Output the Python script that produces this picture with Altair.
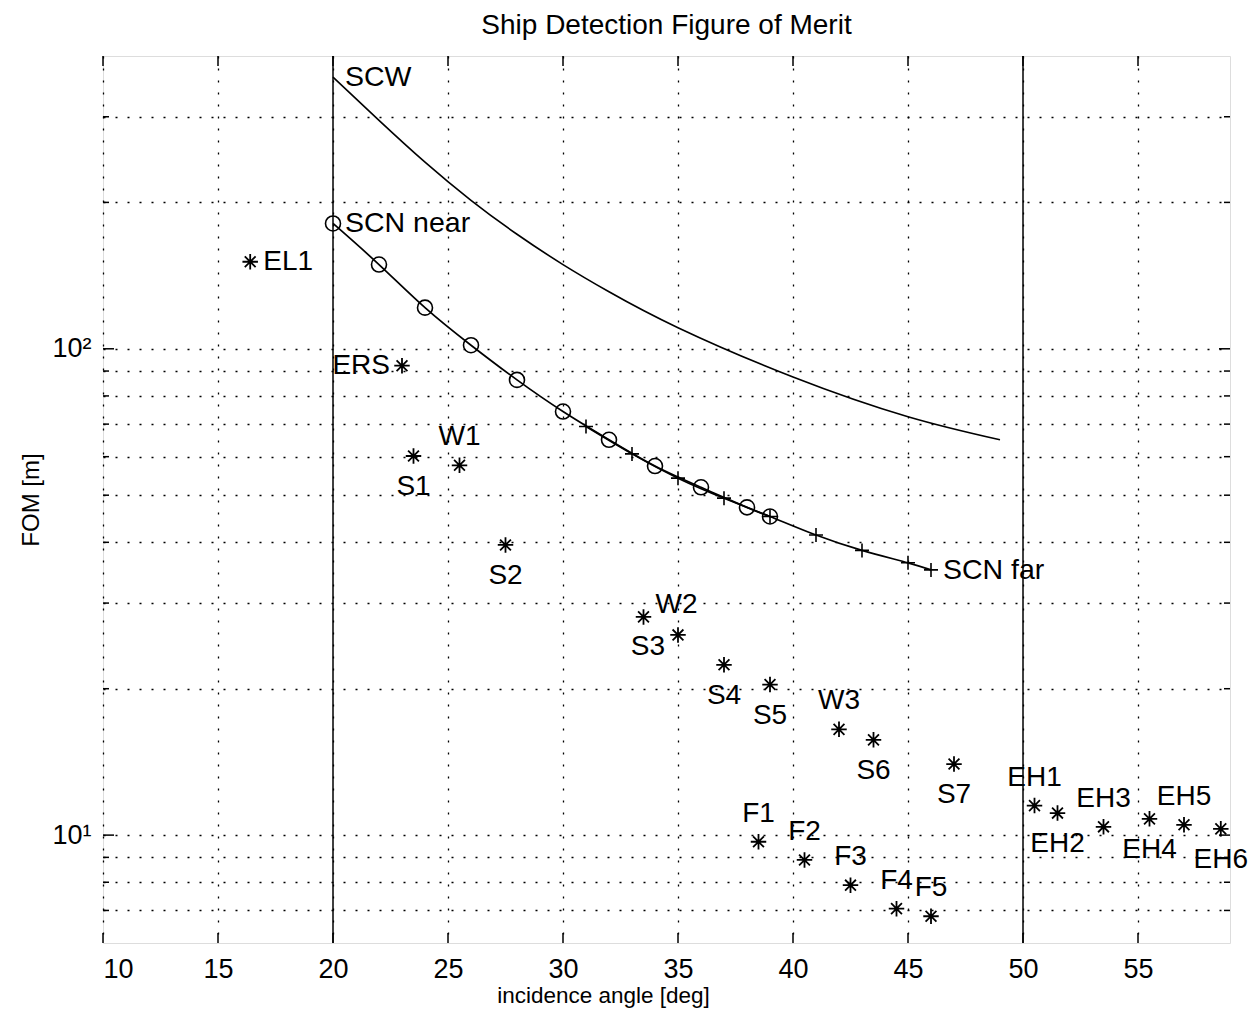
import altair as alt
import pandas as pd

# ---------------- data ----------------
# SCW curve
scw_x = [20, 22, 24, 26, 28, 30, 32, 35, 40, 45, 49]
scw_y = [362, 295, 242, 202, 172, 149, 131, 110.5, 87.5, 72.5, 65]

# SCN near (circle markers)
near_x = [20, 22, 24, 26, 28, 30, 32, 34, 36, 38, 39]
near_y = [181, 149, 121.5, 101.7, 86.3, 74.3, 65.0, 57.4, 51.9, 47.2, 45.2]

# SCN far (plus markers)
far_x = [31, 33, 35, 37, 39, 41, 43, 45, 46]
far_y = [69.2, 60.8, 54.2, 49.3, 45.2, 41.4, 38.5, 36.3, 35.1]

# individual beam modes (asterisk markers)
mode_names = ["EL1", "ERS", "S1", "W1", "S2", "W2", "S3", "S4", "S5", "W3", "S6", "S7",
              "EH1", "EH2", "EH3", "EH4", "EH5", "EH6", "F1", "F2", "F3", "F4", "F5"]
mode_x = [16.4, 23.0, 23.5, 25.5, 27.5, 33.5, 35.0, 37.0, 39.0, 42.0, 43.5, 47.0,
          50.5, 51.5, 53.5, 55.5, 57.0, 58.6, 38.5, 40.5, 42.5, 44.5, 46.0]
mode_y = [151, 92.3, 60.2, 57.6, 39.5, 28.1, 25.8, 22.4, 20.4, 16.5, 15.7, 14.0,
          11.5, 11.1, 10.4, 10.8, 10.5, 10.3, 9.69, 8.89, 7.89, 7.06, 6.81]
mode_side = ["right", "left", "below", "above", "below", "upright", "downleft", "below",
             "below", "above", "below", "below", "above", "below", "above", "below",
             "above", "below", "above", "above", "above", "above", "above"]

# curve labels
curve_names = ["SCW", "SCN near", "SCN far"]
curve_lx = [scw_x[0], near_x[0], far_x[-1]]
curve_ly = [scw_y[0], near_y[0], far_y[-1]]

# axes
x_ticks = [10, 15, 20, 25, 30, 35, 40, 45, 50, 55]
y_major = [10, 100]
y_minor = [7, 8, 9, 20, 30, 40, 50, 60, 70, 80, 90, 200, 300]
solid_x = [20, 50]

# ---------------- chart ----------------
W, H = 1127, 887
FONT = "Liberation Sans"

xs = alt.Scale(domain=[10, 59], nice=False, zero=False)
ys = alt.Scale(type="log", domain=[6, 400], nice=False)

xaxis = alt.Axis(values=x_ticks, title="incidence angle [deg]", ticks=False, domain=False,
                 grid=True, gridDash=[2, 10], gridColor="#000", gridWidth=1.3,
                 labelFont=FONT, labelFontSize=27, labelColor="#000", labelPadding=13,
                 titleFont=FONT, titleFontSize=22.5, titleFontWeight="normal",
                 titleColor="#000", titlePadding=2, titleX=500)
yaxis = alt.Axis(values=sorted(y_major + y_minor),
                 labelExpr="datum.value == 10 ? '10\u00b9' : (datum.value == 100 ? '10\u00b2' : '')",
                 title="FOM [m]", ticks=False, domain=False,
                 grid=True, gridDash=[2, 10], gridColor="#000", gridWidth=1.3,
                 labelFont=FONT, labelFontSize=27, labelColor="#000", labelPadding=12,
                 titleFont=FONT, titleFontSize=24, titleFontWeight="normal",
                 titleColor="#000", titlePadding=8)


def X(f):
    return alt.X(f, type="quantitative", scale=xs, axis=xaxis)


def Y(f):
    return alt.Y(f, type="quantitative", scale=ys, axis=yaxis)


scw = pd.DataFrame({"x": scw_x, "y": scw_y})
near = pd.DataFrame({"x": near_x, "y": near_y})
far = pd.DataFrame({"x": far_x, "y": far_y})
modes = pd.DataFrame({"name": mode_names, "x": mode_x, "y": mode_y, "side": mode_side})
curves = pd.DataFrame({"name": curve_names, "x": curve_lx, "y": curve_ly})

STAR = "M-1,0L1,0M0,-1L0,1M-0.7,-0.7L0.7,0.7M-0.7,0.7L0.7,-0.7"
PLUS = "M-1,0L1,0M0,-1L0,1"

layers = []

# vertical solid lines at 20 and 50
layers.append(alt.Chart(pd.DataFrame({"x": solid_x})).mark_rule(color="#000", strokeWidth=1.5)
              .encode(x=X("x")))

# inward ticks
tx = pd.DataFrame({"x": x_ticks})
layers.append(alt.Chart(tx).mark_rule(color="#000", strokeWidth=1.5)
              .encode(x=X("x"), y=alt.value(H), y2=alt.value(H - 10)))
layers.append(alt.Chart(tx).mark_rule(color="#000", strokeWidth=1.5)
              .encode(x=X("x"), y=alt.value(0), y2=alt.value(10)))
for vals, ln in ((y_major, 11), (y_minor, 6)):
    ty = pd.DataFrame({"y": vals})
    layers.append(alt.Chart(ty).mark_rule(color="#000", strokeWidth=1.5)
                  .encode(y=Y("y"), x=alt.value(0), x2=alt.value(ln)))
    layers.append(alt.Chart(ty).mark_rule(color="#000", strokeWidth=1.5)
                  .encode(y=Y("y"), x=alt.value(W), x2=alt.value(W - ln)))

# curves
layers.append(alt.Chart(scw).mark_line(color="#000", strokeWidth=1.6, interpolate="natural")
              .encode(x=X("x"), y=Y("y")))
layers.append(alt.Chart(near).mark_line(color="#000", strokeWidth=1.7, interpolate="natural")
              .encode(x=X("x"), y=Y("y")))
layers.append(alt.Chart(far).mark_line(color="#000", strokeWidth=1.7, interpolate="natural")
              .encode(x=X("x"), y=Y("y")))
layers.append(alt.Chart(near).mark_point(shape="circle", filled=False, color="#000",
                                          size=225, strokeWidth=1.6, opacity=1)
              .encode(x=X("x"), y=Y("y")))
layers.append(alt.Chart(far).mark_point(shape=PLUS, filled=False, color="#000",
                                         size=196, strokeWidth=1.6, opacity=1)
              .encode(x=X("x"), y=Y("y")))

# asterisk markers
layers.append(alt.Chart(modes).mark_point(shape=STAR, filled=False, color="#000",
                                           size=240, strokeWidth=1.8, opacity=1)
              .encode(x=X("x"), y=Y("y")))

# mode labels
placements = {
    "above": dict(dx=0, dy=-28, align="center"),
    "below": dict(dx=0, dy=31, align="center"),
    "right": dict(dx=13, dy=0, align="left"),
    "left": dict(dx=-12, dy=0, align="right"),
    "upright": dict(dx=12, dy=-12, align="left"),
    "downleft": dict(dx=-13, dy=12, align="right"),
}
for side, p in placements.items():
    layers.append(alt.Chart(modes).transform_filter(alt.datum.side == side)
                  .mark_text(font=FONT, fontSize=28, color="#000", baseline="middle", **p)
                  .encode(x=X("x"), y=Y("y"), text="name:N"))

# curve labels
layers.append(alt.Chart(curves).mark_text(font=FONT, fontSize=28.5, color="#000",
                                           baseline="middle", align="left", dx=12)
              .encode(x=X("x"), y=Y("y"), text="name:N"))

chart = (alt.layer(*layers)
         .properties(width=W, height=H,
                     title=alt.TitleParams("Ship Detection Figure of Merit", font=FONT,
                                           fontSize=28, fontWeight="normal", color="#000",
                                           anchor="middle", offset=15),
                     padding={"left": 95, "top": 48, "right": 18, "bottom": 66},
                     autosize="none")
         .configure_view(stroke="#000", strokeWidth=1.5)
         .configure(background="white"))

chart.save("out.html", embed_options={"renderer": "svg", "actions": False})
